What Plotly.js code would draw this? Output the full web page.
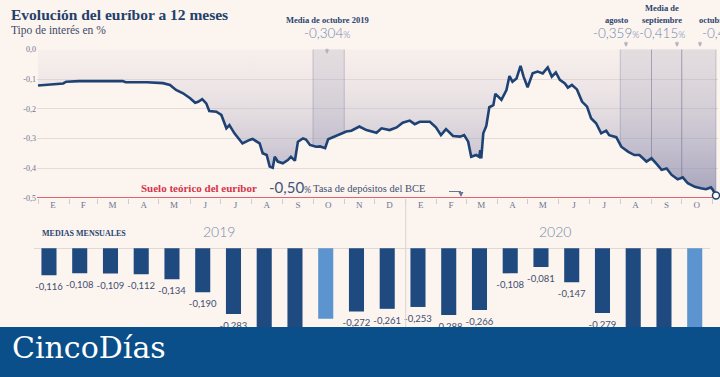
<!DOCTYPE html>
<html><head><meta charset="utf-8">
<script src="https://cdn.plot.ly/plotly-3.0.1.min.js"></script>
<style>html,body{margin:0;padding:0;background:#fcf4ee;} #chart{width:720px;height:377px;}</style>
</head><body><div id="chart"></div>
<script>
// ---------- DATA ----------
const dates = ['2019-01-01','2019-01-13','2019-01-26','2019-01-29','2019-02-11','2019-02-28','2019-03-26','2019-03-29','2019-04-19','2019-05-05','2019-05-12','2019-05-18','2019-05-25','2019-06-01','2019-06-06','2019-06-09','2019-06-13','2019-06-17','2019-06-20','2019-06-27','2019-07-02','2019-07-07','2019-07-10','2019-07-15','2019-07-23','2019-07-30','2019-08-02','2019-08-09','2019-08-12','2019-08-16','2019-08-19','2019-08-22','2019-08-24','2019-08-27','2019-09-01','2019-09-06','2019-09-09','2019-09-13','2019-09-16','2019-09-21','2019-09-24','2019-09-28','2019-10-04','2019-10-08','2019-10-13','2019-10-16','2019-10-21','2019-10-27','2019-10-31','2019-11-03','2019-11-08','2019-11-16','2019-11-23','2019-12-03','2019-12-08','2019-12-16','2019-12-23','2019-12-29','2020-01-05','2020-01-10','2020-01-15','2020-01-25','2020-01-31','2020-02-05','2020-02-10','2020-02-17','2020-02-24','2020-02-28','2020-03-03','2020-03-06','2020-03-11','2020-03-14','2020-03-15','2020-03-16','2020-03-18','2020-03-21','2020-03-24','2020-03-28','2020-03-30','2020-04-05','2020-04-10','2020-04-13','2020-04-16','2020-04-20','2020-04-24','2020-04-27','2020-05-01','2020-05-06','2020-05-11','2020-05-16','2020-05-21','2020-05-25','2020-05-29','2020-06-02','2020-06-07','2020-06-10','2020-06-14','2020-06-19','2020-06-24','2020-06-29','2020-07-03','2020-07-08','2020-07-13','2020-07-18','2020-07-21','2020-07-28','2020-08-02','2020-08-09','2020-08-15','2020-08-20','2020-08-27','2020-09-01','2020-09-06','2020-09-11','2020-09-16','2020-09-21','2020-09-27','2020-10-02','2020-10-07','2020-10-14','2020-10-20','2020-10-25','2020-10-30','2020-11-01','2020-11-04'];
const rates = [-0.122,-0.118,-0.115,-0.109,-0.107,-0.107,-0.107,-0.111,-0.111,-0.114,-0.120,-0.137,-0.148,-0.165,-0.180,-0.177,-0.168,-0.182,-0.208,-0.210,-0.221,-0.266,-0.255,-0.283,-0.317,-0.305,-0.302,-0.317,-0.350,-0.356,-0.395,-0.399,-0.362,-0.378,-0.384,-0.373,-0.362,-0.375,-0.311,-0.300,-0.304,-0.322,-0.328,-0.327,-0.333,-0.303,-0.296,-0.289,-0.283,-0.277,-0.274,-0.260,-0.272,-0.281,-0.266,-0.272,-0.263,-0.247,-0.240,-0.252,-0.244,-0.244,-0.263,-0.289,-0.269,-0.292,-0.294,-0.289,-0.311,-0.362,-0.356,-0.362,-0.340,-0.367,-0.283,-0.258,-0.195,-0.188,-0.150,-0.170,-0.137,-0.090,-0.109,-0.098,-0.056,-0.092,-0.128,-0.081,-0.075,-0.081,-0.061,-0.092,-0.078,-0.103,-0.115,-0.129,-0.120,-0.135,-0.176,-0.193,-0.232,-0.249,-0.283,-0.274,-0.289,-0.296,-0.328,-0.345,-0.356,-0.356,-0.378,-0.367,-0.386,-0.406,-0.401,-0.423,-0.438,-0.431,-0.451,-0.463,-0.468,-0.471,-0.465,-0.474,-0.492];

const monthStarts = ['2019-01-01','2019-02-01','2019-03-01','2019-04-01','2019-05-01','2019-06-01','2019-07-01','2019-08-01','2019-09-01','2019-10-01','2019-11-01','2019-12-01','2020-01-01','2020-02-01','2020-03-01','2020-04-01','2020-05-01','2020-06-01','2020-07-01','2020-08-01','2020-09-01','2020-10-01','2020-11-01'];
const monthLetters = ['E','F','M','A','M','J','J','A','S','O','N','D','E','F','M','A','M','J','J','A','S','O'];
const monthKeys = ['2019-01','2019-02','2019-03','2019-04','2019-05','2019-06','2019-07','2019-08','2019-09','2019-10','2019-11','2019-12','2020-01','2020-02','2020-03','2020-04','2020-05','2020-06','2020-07','2020-08','2020-09','2020-10'];
const monthlyAvg = [-0.116,-0.108,-0.109,-0.112,-0.134,-0.190,-0.283,-0.356,-0.339,-0.304,-0.272,-0.261,-0.253,-0.288,-0.266,-0.108,-0.081,-0.147,-0.279,-0.359,-0.415,-0.466];
const highlightBars = ['2019-10','2020-10'];
const shadedStarts = ['2019-10-01','2020-08-01','2020-09-01','2020-10-01'];
const shadedEnds   = ['2019-11-01','2020-09-01','2020-10-01', null];
const depositRate = -0.50;
const yTicks = [0,-0.1,-0.2,-0.3,-0.4,-0.5];
const yTickText = ['0,0','-0,1','-0,2','-0,3','-0,4','-0,5'];
const years = ['2019','2020'];

// ---------- HELPERS ----------
const W = 720, H = 377;
const PX = p => p / W;
const PY = p => 1 - p / H;
const fmt = v => v.toFixed(3).replace('.', ',');
const SERIF = 'Liberation Serif, DejaVu Serif, serif';
const SANS = 'Lato, Open Sans, sans-serif';
const NAVY = '#1f4a80';
const BG = '#fcf4ee';

const midMonths = monthLetters.map((_, i) => {
  const a = new Date(monthStarts[i] + 'T00:00:00Z').getTime();
  const b = new Date(monthStarts[i + 1] + 'T00:00:00Z').getTime();
  return new Date((a + b) / 2).toISOString().slice(0, 10);
});

const traces = [];
traces.push({
  x: dates, y: rates, type: 'scatter', mode: 'none', fill: 'tozeroy',
  fillgradient: {type: 'vertical', start: -0.5, stop: 0,
    colorscale: [[0, 'rgba(140,140,175,0.72)'], [0.5, 'rgba(185,180,200,0.45)'], [1, 'rgba(230,220,226,0.2)']]},
  hoverinfo: 'skip', xaxis: 'x', yaxis: 'y'
});
shadedStarts.forEach((s, k) => {
  const e = shadedEnds[k] || dates[dates.length - 1];
  const idx = dates.map((d, i) => i).filter(i => dates[i] >= s && dates[i] <= e);
  const xs = [s, s].concat(idx.map(i => dates[i]), [e, e]);
  const ys = [0, rates[idx[0]]].concat(idx.map(i => rates[i]), [rates[idx[idx.length - 1]], 0]);
  traces.push({x: xs, y: ys, type: 'scatter', mode: 'lines', fill: 'toself',
    fillcolor: 'rgba(130,130,165,0.17)', line: {color: 'rgba(120,120,150,0.45)', width: 0.8},
    hoverinfo: 'skip', xaxis: 'x', yaxis: 'y'});
});
traces.push({x: dates, y: rates, type: 'scatter', mode: 'lines',
  line: {color: '#1f4275', width: 2.6}, cliponaxis: false, xaxis: 'x', yaxis: 'y'});
traces.push({x: [dates[dates.length - 1]], y: [rates[rates.length - 1]], type: 'scatter', mode: 'markers',
  marker: {size: 7, color: '#ffffff', line: {color: '#1f4275', width: 1.5}}, cliponaxis: false, xaxis: 'x', yaxis: 'y'});
traces.push({x: monthKeys, y: monthlyAvg, type: 'bar', xaxis: 'x2', yaxis: 'y2',
  marker: {color: monthKeys.map(k => highlightBars.includes(k) ? '#5b94cf' : NAVY)}});
// bar value labels (below each bar end)
traces.push({x: monthKeys, y: monthlyAvg, type: 'scatter', mode: 'markers+text', xaxis: 'x2', yaxis: 'y2',
  marker: {size: 11, color: 'rgba(0,0,0,0)'}, text: monthlyAvg.map(fmt), textposition: 'bottom center',
  cliponaxis: false, textfont: {family: SANS, size: 9.5, color: '#3f4f70'}});

const ann = [];
const A = (text, x, y, o) => ann.push(Object.assign({text, x: PX(x), y: PY(y), xref: 'paper', yref: 'paper',
  showarrow: false, xanchor: 'left', yanchor: 'middle'}, o || {}));
A('<b>Evolución del euríbor a 12 meses</b>', 9, 14, {font: {family: SERIF, size: 15.5, color: '#22406b'}});
A('Tipo de interés en %', 9, 30, {font: {family: SERIF, size: 11.5, color: '#3c4b6a'}});
const lblFont = {family: SERIF, size: 8.5, color: '#2a4470'};
const valFont = {family: SANS, size: 13.5, color: '#6f86b0', weight: 300};
const pct = v => fmt(v) + '<span style="font-size:9px">%</span>';
A('<b>Media de octubre 2019</b>', 327, 20, {xanchor: 'center', font: lblFont});
A(pct(monthlyAvg[monthKeys.indexOf('2019-10')]), 327, 33, {xanchor: 'center', font: valFont});
A('<b>agosto</b>', 616, 20, {xanchor: 'center', font: lblFont});
A(pct(monthlyAvg[monthKeys.indexOf('2020-08')]), 616, 33, {xanchor: 'center', font: valFont});
A('<b>Media de</b>', 662, 8, {xanchor: 'center', font: lblFont});
A('<b>septiembre</b>', 662, 20, {xanchor: 'center', font: lblFont});
A(pct(monthlyAvg[monthKeys.indexOf('2020-09')]), 662, 33, {xanchor: 'center', font: valFont});
A('<b>octubre</b>', 697, 20, {font: lblFont});
A(pct(monthlyAvg[monthKeys.indexOf('2020-10')]), 700, 33, {font: valFont});
[[327, 54], [626, 47], [677, 47], [700, 47]].forEach(p => ann.push({x: PX(p[0]), y: PY(p[1]), xref: 'paper', yref: 'paper',
  text: '', showarrow: true, ax: 0, ay: -7, arrowhead: 2, arrowsize: 0.9, arrowwidth: 1, arrowcolor: '#b5b0bf'}));
A('<b>Suelo teórico del euríbor</b>', 139, 188, {font: {family: SERIF, size: 11, color: '#d6334a'}});
A(fmt(depositRate).slice(0, -1) + '<span style="font-size:9px">%</span>', 267, 187, {font: {family: SANS, size: 15, color: '#44557a'}});
A('Tasa de depósitos del BCE', 311, 188.5, {font: {family: SERIF, size: 10.5, color: '#3e4f70'}});
ann.push({x: PX(461), y: PY(197), xref: 'paper', yref: 'paper', text: '', showarrow: true, ax: 0, ay: -5,
  arrowhead: 2, arrowsize: 1, arrowwidth: 1, arrowcolor: '#6b7592'});
A('<b>MEDIAS MENSUALES</b>', 40, 233, {font: {family: SERIF, size: 8, color: '#2a4470'}});
A(years[0], 219, 231, {xanchor: 'center', font: {family: SANS, size: 14, color: '#7489b0', weight: 300}});
A(years[1], 555, 231, {xanchor: 'center', font: {family: SANS, size: 14, color: '#7489b0', weight: 300}});
A('CincoDías', 10, 347, {font: {family: 'DejaVu Serif, serif', size: 30, color: '#ffffff'}});

const shapes = [
  {type: 'line', xref: 'paper', yref: 'y', x0: PX(37), x1: PX(718), y0: depositRate, y1: depositRate,
    line: {color: '#d6334a', width: 1.6}, layer: 'between'},
  {type: 'line', xref: 'x', yref: 'paper', x0: '2020-01-01', x1: '2020-01-01', y0: PY(327), y1: PY(200),
    line: {color: '#dbd3cf', width: 1}},
  {type: 'line', xref: 'paper', yref: 'paper', x0: PX(449), x1: PX(461), y0: PY(191.5), y1: PY(191.5),
    line: {color: '#6b7592', width: 1}},
  {type: 'rect', xref: 'paper', yref: 'paper', x0: 0, x1: 1, y0: 0, y1: PY(327),
    fillcolor: '#0a4f8a', line: {width: 0}, layer: 'above'}
];

const layout = {
  width: W, height: H, margin: {l: 0, r: 0, t: 0, b: 0},
  paper_bgcolor: BG, plot_bgcolor: 'rgba(0,0,0,0)', showlegend: false, separators: ',.',
  xaxis: {type: 'date', domain: [PX(37), PX(718)], range: ['2018-12-31', '2020-11-06'], anchor: 'y',
    tickmode: 'array', tickvals: midMonths, ticktext: monthLetters, ticks: '', showgrid: false, zeroline: false,
    tickfont: {family: SERIF, size: 9, color: '#6b7592'},
    minor: {tickmode: 'array', tickvals: monthStarts, ticks: 'outside', ticklen: 5, tickcolor: '#d3cbc7', tickwidth: 1, showgrid: false}},
  yaxis: {domain: [PY(197.8), PY(49.3)], range: [-0.5, 0], anchor: 'x', tickmode: 'array', tickvals: yTicks, ticktext: yTickText,
    showgrid: true, gridcolor: '#e3dbd6', gridwidth: 1, zeroline: false, ticks: '',
    tickfont: {family: SERIF, size: 8, color: '#6b7592'}},
  xaxis2: {type: 'category', domain: [PX(33.6), PX(710.1)], range: [-0.5, 21.5], anchor: 'y2',
    showticklabels: false, showgrid: false, zeroline: false, ticks: ''},
  yaxis2: {domain: [PY(375.9), PY(247.1)], range: [-0.55, 0.005], anchor: 'x2', showticklabels: false,
    showgrid: false, zeroline: true, zerolinecolor: '#e0d8d3', zerolinewidth: 1},
  bargap: 0.51,
  annotations: ann, shapes: shapes
};
Plotly.newPlot('chart', traces, layout, {displayModeBar: false, staticPlot: true});
</script></body></html>
